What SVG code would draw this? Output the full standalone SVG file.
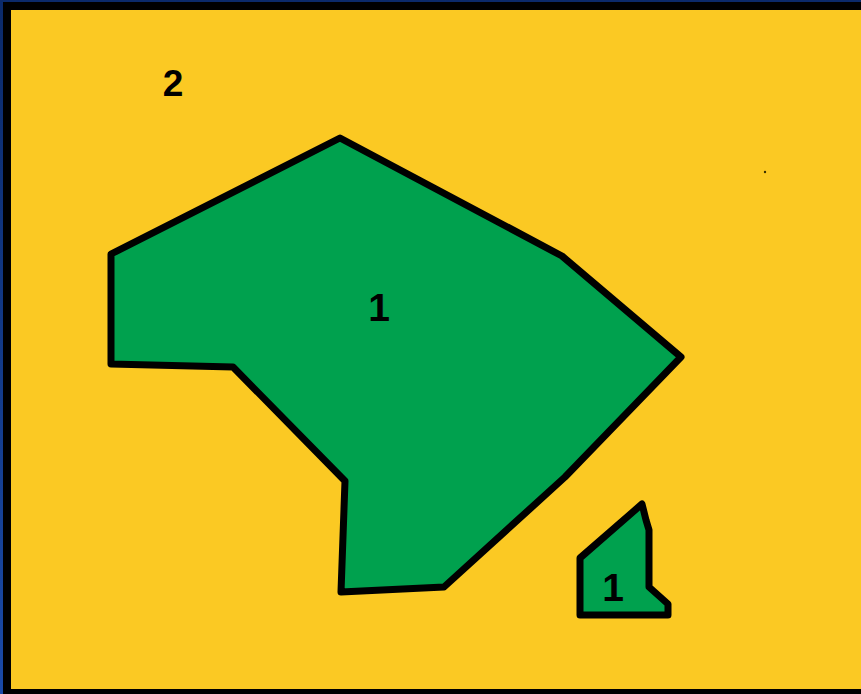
<svg xmlns="http://www.w3.org/2000/svg" width="861" height="694" viewBox="0 0 861 694">
<defs>
<linearGradient id="edge" x1="0" y1="0" x2="0" y2="1">
<stop offset="0" stop-color="#0b2a6a"/>
<stop offset="1" stop-color="#1a4aa8"/>
</linearGradient>
</defs>
<style>
.region{fill:#00a14e;stroke:#000;stroke-width:7;stroke-linejoin:round;stroke-linecap:round}
.lbl{font-family:"Liberation Sans",Arial,sans-serif;font-weight:bold;fill:#000;text-anchor:middle}
</style>
<rect x="0" y="0" width="861" height="694" fill="url(#edge)"/>
<rect x="3" y="2" width="858" height="692" fill="#000"/>
<rect x="11" y="10" width="850" height="679" fill="#fbc923"/>
<circle cx="765" cy="172" r="1.2" fill="#3a3000"/>
<g id="region2">
<text class="lbl" x="173" y="96" font-size="37">2</text>
</g>
<g id="region1-large">
<polygon class="region" points="111,254 340,138 562,256 681,357 565,477 444,587 341,592 345,481 233,367 111,364"/>
<text class="lbl" x="379" y="321" font-size="39">1</text>
</g>
<g id="region1-small">
<polygon class="region" points="642,504 646,520 649,530 649,587 668,604 668,615 580,615 580,558"/>
<text class="lbl" x="613" y="601" font-size="39">1</text>
</g>
</svg>
